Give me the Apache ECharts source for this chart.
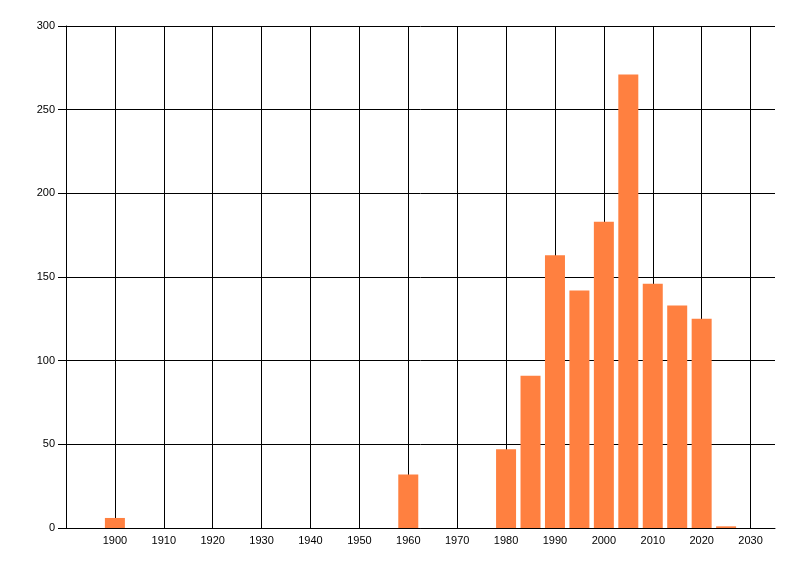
<!DOCTYPE html>
<html>
<head>
<meta charset="utf-8">
<script src="https://cdn.jsdelivr.net/npm/echarts@6/dist/echarts.min.js"></script>
<style>
  html, body { margin: 0; padding: 0; background: #fff; }
  #chart { width: 800px; height: 576px; }
</style>
</head>
<body>
<div id="chart"></div>
<script>
// years (bar centres) and counts
const years = [1900, 1960, 1980, 1985, 1990, 1995, 2000, 2005, 2010, 2015, 2020, 2025]
const counts = [6, 32, 47, 91, 163, 142, 183, 271, 146, 133, 125, 1]

const xMin = 1890, xMax = 2035, xStep = 10
const yMin = 0, yMax = 300, yStep = 50

const chart = echarts.init(document.getElementById('chart'))

// one colour per vertical split line: hide the last one at 2035
const vLineColors = []
for (let v = xMin; v <= xMax; v += xStep) vLineColors.push('#000')
vLineColors.push('transparent')

const labelFont = { fontFamily: 'Liberation Sans, Arial, sans-serif', fontSize: 11, color: '#000' }

const option = {
  animation: false,
  grid: { left: 66, right: 25, top: 26, bottom: 48 },
  xAxis: {
    type: 'value',
    min: xMin,
    max: xMax,
    interval: xStep,
    axisLine: { lineStyle: { color: '#000', width: 1 } },
    axisTick: { show: false },
    axisLabel: Object.assign({
      margin: 7,
      formatter: function (v) {
        return (v === xMin || v % xStep !== 0) ? '' : String(v)
      }
    }, labelFont),
    splitLine: { show: true, lineStyle: { color: vLineColors, width: 1 } }
  },
  yAxis: {
    type: 'value',
    min: yMin,
    max: yMax,
    interval: yStep,
    axisLine: { show: true, lineStyle: { color: '#000', width: 1 } },
    axisTick: { show: true, length: 8, lineStyle: { color: '#000' } },
    axisLabel: Object.assign({ margin: 11 }, labelFont),
    splitLine: { show: true, lineStyle: { color: '#000', width: 1 } }
  },
  series: [
    {
      type: 'bar',
      barWidth: 20,
      itemStyle: { color: '#ff8040' },
      data: years.map((y, i) => [y, counts[i]])
    }
  ]
}

chart.setOption(option)
window.addEventListener('resize', () => {
  chart.resize()
})
</script>
</body>
</html>
